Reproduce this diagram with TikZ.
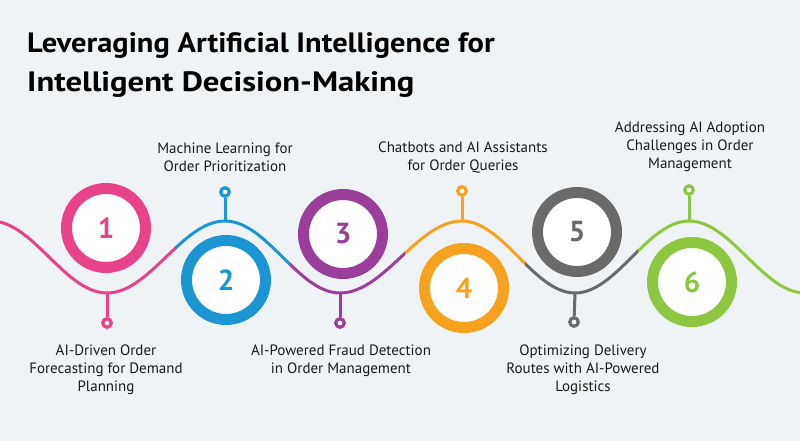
\documentclass[tikz,border=0pt]{standalone}
\usepackage{fontspec}
\setmainfont{PT Sans}
\definecolor{bgc}{HTML}{F0F3F5}
\definecolor{pinkc}{HTML}{E8428A}
\definecolor{bluec}{HTML}{1B96D3}
\definecolor{purplec}{HTML}{9A3E9C}
\definecolor{orangec}{HTML}{F7A21F}
\definecolor{grayc}{HTML}{6A6A6A}
\definecolor{greenc}{HTML}{8DC641}
\definecolor{txt}{HTML}{1A1A1A}
\begin{document}
\begin{tikzpicture}[x=1pt,y=-1pt,
  wave/.style={line width=3pt},
  ring/.style={circle, draw=#1, line width=11pt, fill=white, minimum size=79pt, inner sep=0pt, text=#1, font=\bfseries\fontsize{29}{30}\selectfont},
  dotn/.style={circle, draw=#1, line width=3.2pt, fill=white, minimum size=8.5pt, inner sep=0pt},
  stem/.style={line width=3pt, draw=#1},
  lbl/.style={align=center, font=\fontsize{15}{18}\selectfont, text=txt, inner sep=0pt, anchor=north},
  ttl/.style={anchor=base west, inner sep=0pt, text=black, font=\bfseries\fontsize{28}{34}\selectfont}
]
\fill[bgc] (0,0) rectangle (800,441);
\useasboundingbox (0,0) rectangle (800,441);

% title
\node[ttl] (title1) at (27,53) {\scalebox{1.088}[1]{Leveraging Artificial Intelligence for}};
\node[ttl] (title2) at (27,92) {\scalebox{1.167}[1]{Intelligent Decision-Making}};

% wave
\path[save path=\wavep] (-9,221) .. controls (33.2,221) and (64.8,293) .. (107,293)
  .. controls (149.9,293) and (182.1,221) .. (225,221)
  .. controls (266.9,221) and (298.1,293) .. (340,293)
  .. controls (384.4,293) and (417.6,221) .. (462,221)
  .. controls (503.1,221) and (533.9,293) .. (575,293)
  .. controls (616.5,293) and (647.5,221) .. (689,221)
  .. controls (731.2,221) and (762.8,293) .. (805,293);
\foreach \a/\b/\c in {-10/175/pinkc, 175/290/bluec, 290/405/purplec, 405/525/orangec, 525/638/grayc, 638/810/greenc}{
  \begin{scope}
    \clip (\a,0) rectangle (\b,441);
    \draw[wave, draw=\c, use path=\wavep];
  \end{scope}
}

% extreme points
\coordinate (t1) at (107,293);
\coordinate (c2) at (225,221);
\coordinate (t3) at (340,293);
\coordinate (c4) at (462,221);
\coordinate (t5) at (575,293);
\coordinate (c6) at (689,221);

% dots
\node[dotn=pinkc] (d1) at (107,323) {};
\node[dotn=bluec] (d2) at (225,192) {};
\node[dotn=purplec] (d3) at (340,323) {};
\node[dotn=orangec] (d4) at (462,191) {};
\node[dotn=grayc] (d5) at (574,322) {};
\node[dotn=greenc] (d6) at (689,190) {};

\draw[stem=pinkc] (t1) -- (d1);
\draw[stem=bluec] (c2) -- (d2);
\draw[stem=purplec] (t3) -- (d3);
\draw[stem=orangec] (c4) -- (d4);
\draw[stem=grayc] (t5) -- (d5);
\draw[stem=greenc] (c6) -- (d6);

% circles
\node[ring=pinkc] (n1) at (106,228) {1};
\node[ring=bluec] (n2) at (226,280) {2};
\node[ring=purplec] (n3) at (343,234) {3};
\node[ring=orangec] (n4) at (464,288) {4};
\node[ring=grayc] (n5) at (577,232) {5};
\node[ring=greenc] (n6) at (692,282) {6};

% labels
\node[lbl] (l1) at (106,345) {AI-Driven Order\\Forecasting for Demand\\Planning};
\node[lbl] (l3) at (341,345) {AI-Powered Fraud Detection\\in Order Management};
\node[lbl] (l5) at (583,345) {Optimizing Delivery\\Routes with AI-Powered\\Logistics};
\node[lbl] (l2) at (225,143) {Machine Learning for\\Order Prioritization};
\node[lbl] (l4) at (463,142) {Chatbots and AI Assistants\\for Order Queries};
\node[lbl] (l6) at (690,122) {Addressing AI Adoption\\Challenges in Order\\Management};
\end{tikzpicture}
\end{document}
